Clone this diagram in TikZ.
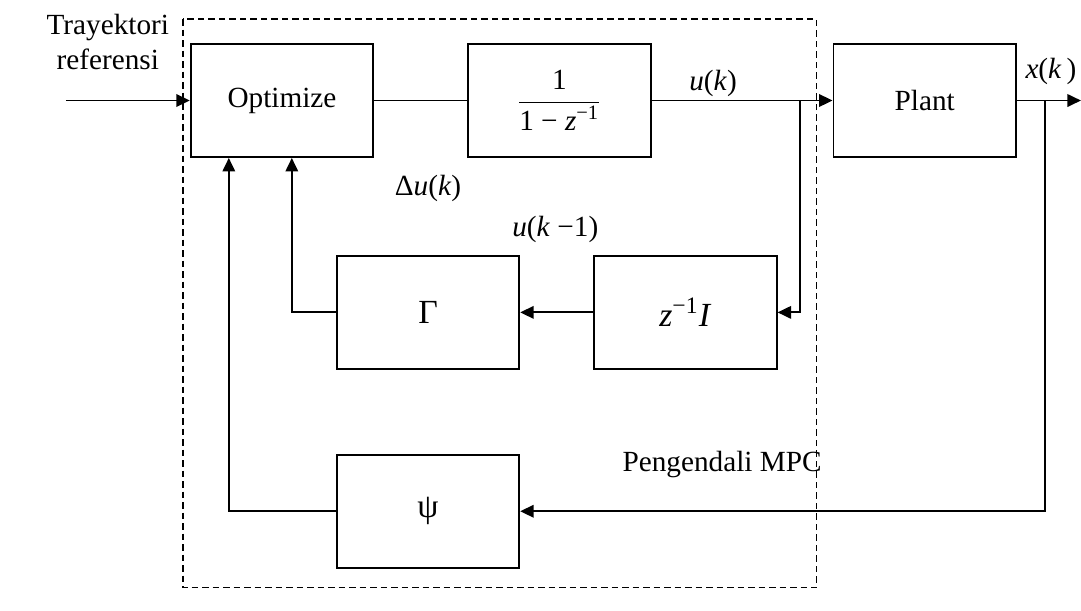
\documentclass[tikz,border=0pt]{standalone}
\usepackage{fontspec}
\setmainfont{Liberation Serif}
\usetikzlibrary{arrows.meta,positioning}

\newcommand{\iv}[1]{\textit{#1}}
\newcommand{\bigsym}{\fontsize{13.5pt}{16pt}\selectfont}

\begin{document}
\begin{tikzpicture}[
  >={Triangle[length=5.4pt,width=5pt]},
  font=\fontsize{11.7pt}{14pt}\selectfont,
  blk/.style={draw,minimum width=73pt,minimum height=45.2pt,inner sep=0pt},
  lbl/.style={inner sep=0pt,align=center},
  mpcbox/.style={dash pattern=on 2.6pt off 1.6pt,line width=0.6pt},
  every path/.style={line width=0.75pt}
]
  \useasboundingbox (-112.8pt,40.2pt) rectangle (319.6pt,-203.8pt);
  \node[blk] (optim) {Optimize};
  \node[blk,right=37.2pt of optim] (frac)
    {$\displaystyle\frac{\mbox{1}}{\mbox{1 − \iv{z}\textsuperscript{−1}}}$};
  \node[blk,right=72.4pt of frac] (plant) {Plant};
  \node[blk,below=38.8pt of optim,xshift=58.4pt] (gam) {\bigsym Γ};
  \node[blk,right=29.2pt of gam] (zinv) {\bigsym\iv{z}\textsuperscript{−1}\iv{I}};
  \node[blk,below=33.6pt of gam] (psi) {\bigsym ψ};

  \coordinate[left=49.6pt of optim.west] (ref);
  \node[lbl] (traj) at ([shift={(16.8pt,23.4pt)}]ref) {Trayektori\\referensi};
  \draw[->] (ref) -- (optim);
  \draw (optim) -- (frac);
  \draw[->] (frac) -- node[lbl,above=1pt,pos=0.34] (uk) {\iv{u}(\iv{k})} (plant);

  % u(k) fed back through the delay
  \coordinate[right=59.2pt of frac.east] (ubr);
  \draw[->] (ubr) |- (zinv);
  \draw[->] (zinv) -- (gam);
  \node[lbl,anchor=south east] (ukm) at ([shift={(2.4pt,4.4pt)}]zinv.north west)
    {\iv{u}(\iv{k} −1)};
  \node[lbl] (du) at ([yshift=26.4pt]gam.north) {Δ\iv{u}(\iv{k})};
  \draw[->] (gam) -| ([xshift=40.8pt]optim.south west);
  \draw[->] (psi) -| ([xshift=15.6pt]optim.south west);

  % plant output and state feedback
  \coordinate[right=25.6pt of plant.east] (out);
  \draw[->] (plant) -- node[lbl,above=6pt,pos=0.53] (xk) {\iv{x}(\iv{k}\,)} (out);
  \coordinate[right=11.2pt of plant.east] (xbr);
  \draw[->] (xbr) |- (psi);

  \coordinate (mpcse) at (plant.west |- psi.south);
  \draw[mpcbox] ([shift={(-2.8pt,9.6pt)}]optim.north west) rectangle
    ([shift={(-6.4pt,-7.6pt)}]mpcse);
  \node[lbl,anchor=east] (mpclbl) at ([shift={(-4pt,41.6pt)}]mpcse) {Pengendali MPC};
\end{tikzpicture}
\end{document}
